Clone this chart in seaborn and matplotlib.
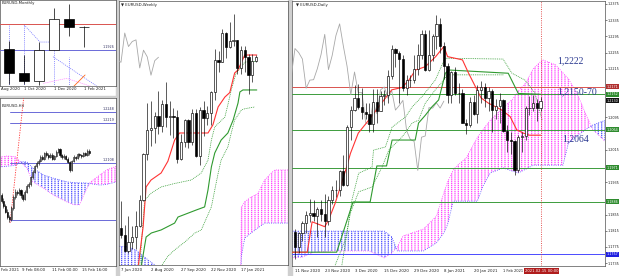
import numpy as np
import matplotlib
matplotlib.use("Agg")
import matplotlib.pyplot as plt
import matplotlib.transforms as mtransforms
import seaborn as sns

# ============================ DATA ============================
# ---- Daily EURUSD (bar 0 = 11 Nov 2020 ... bar 66 = 15 Feb 2021)
d_open = [1.1812, 1.1776, 1.1809, 1.1833, 1.1853, 1.1860, 1.1852, 1.1869, 1.1857, 1.1840,
          1.1892, 1.1915, 1.1916, 1.1962, 1.1927, 1.2072, 1.2112, 1.2144, 1.2121, 1.2109,
          1.2103, 1.2079, 1.2134, 1.2110, 1.2147, 1.2150, 1.2197, 1.2265, 1.2255, 1.2239,
          1.2167, 1.2187, 1.2188, 1.2215, 1.2250, 1.2300, 1.2213, 1.2248, 1.2297, 1.2326,
          1.2271, 1.2221, 1.2151, 1.2207, 1.2156, 1.2156, 1.2082, 1.2077, 1.2132, 1.2104,
          1.2163, 1.2170, 1.2142, 1.2161, 1.2113, 1.2124, 1.2137, 1.2062, 1.2040, 1.2036,
          1.1964, 1.2046, 1.2049, 1.2119, 1.2118, 1.2131, 1.2118]
d_high = [1.1820, 1.1812, 1.1840, 1.1863, 1.1894, 1.1891, 1.1874, 1.1890, 1.1905, 1.1900,
          1.1925, 1.1940, 1.1966, 1.2003, 1.2077, 1.2122, 1.2176, 1.2178, 1.2167, 1.2130,
          1.2130, 1.2164, 1.2164, 1.2160, 1.2162, 1.2212, 1.2273, 1.2267, 1.2260, 1.2250,
          1.2200, 1.2200, 1.2250, 1.2276, 1.2310, 1.2310, 1.2310, 1.2300, 1.2349, 1.2340,
          1.2280, 1.2230, 1.2210, 1.2220, 1.2180, 1.2165, 1.2090, 1.2145, 1.2150, 1.2175,
          1.2185, 1.2180, 1.2170, 1.2165, 1.2140, 1.2155, 1.2140, 1.2075, 1.2060, 1.2040,
          1.2051, 1.2058, 1.2124, 1.2148, 1.2150, 1.2140, 1.2146]
d_low = [1.1746, 1.1760, 1.1790, 1.1810, 1.1836, 1.1840, 1.1800, 1.1840, 1.1800, 1.1830,
         1.1880, 1.1898, 1.1900, 1.1925, 1.1925, 1.2040, 1.2110, 1.2115, 1.2090, 1.2090,
         1.2060, 1.2060, 1.2082, 1.2110, 1.2125, 1.2130, 1.2190, 1.2220, 1.2130, 1.2160,
         1.2150, 1.2170, 1.2180, 1.2200, 1.2240, 1.2210, 1.2210, 1.2235, 1.2265, 1.2255,
         1.2190, 1.2130, 1.2130, 1.2150, 1.2130, 1.2080, 1.2055, 1.2070, 1.2100, 1.2080,
         1.2130, 1.2120, 1.2110, 1.2060, 1.2090, 1.2080, 1.2060, 1.2010, 1.2005, 1.1952,
         1.1960, 1.2010, 1.2040, 1.2100, 1.2110, 1.2085, 1.2110]
d_close = [1.1776, 1.1809, 1.1833, 1.1853, 1.1860, 1.1852, 1.1869, 1.1857, 1.1840, 1.1892,
           1.1915, 1.1916, 1.1962, 1.1927, 1.2072, 1.2112, 1.2144, 1.2121, 1.2109, 1.2103,
           1.2079, 1.2134, 1.2110, 1.2147, 1.2150, 1.2197, 1.2265, 1.2255, 1.2239, 1.2167,
           1.2187, 1.2188, 1.2215, 1.2250, 1.2300, 1.2213, 1.2248, 1.2297, 1.2326, 1.2271,
           1.2221, 1.2151, 1.2207, 1.2156, 1.2156, 1.2082, 1.2077, 1.2132, 1.2104, 1.2163,
           1.2170, 1.2142, 1.2161, 1.2113, 1.2124, 1.2137, 1.2062, 1.2040, 1.2036, 1.1964,
           1.2046, 1.2049, 1.2119, 1.2118, 1.2131, 1.2118, 1.2135]
d_tick_bars = [0, 8, 16, 24, 32, 40, 48, 56]
d_tick_labels = ["11 Nov 2020", "23 Nov 2020", "3 Dec 2020", "15 Dec 2020",
                 "29 Dec 2020", "8 Jan 2021", "20 Jan 2021", "1 Feb 2021"]
d_price_ticks = [1.2375, 1.2335, 1.2295, 1.2255, 1.2215, 1.2095, 1.2015,
                 1.1935, 1.1855, 1.1815, 1.1775, 1.1735]
d_level_vals = [1.2171, 1.2152, 1.2064, 1.1971, 1.1886, 1.1757]
d_level_cols = ["#d9534f", "#3c9c3c", "#3c9c3c", "#3c9c3c", "#3c9c3c", "#4a4aff"]
d_box_vals = [1.2171, 1.2152, 1.2136, 1.2064, 1.1971, 1.1886, 1.1757]
d_box_text = ["1.2171", "1.2152", "1.2130", "1.2064", "1.1971", "1.1886", "1.1757"]
d_box_cols = ["#b03030", "#2e8b2e", "#111111", "#2e8b2e", "#2e8b2e", "#2e8b2e", "#2020e0"]
d_tenkan_x = [-1, 3.3, 4.6, 8.0, 9.0, 10.8, 13.9, 14.9, 17.0, 19.8, 22.5, 26.0, 28.8, 30.6,
              32.4, 35.0, 37.8, 40.0, 41.0, 45.0, 46.6, 50.0, 52.0, 55.6, 57.8, 59.6, 61.4, 63.0, 66.0]
d_tenkan_y = [1.1762, 1.1762, 1.1837, 1.1825, 1.1841, 1.1883, 1.1973, 1.2006, 1.2056, 1.2088,
              1.2121, 1.2163, 1.2169, 1.2187, 1.2212, 1.2220, 1.2245, 1.2270, 1.2245, 1.2237,
              1.2205, 1.2143, 1.2130, 1.2113, 1.2097, 1.2064, 1.2056, 1.2051, 1.2051]
d_kijun_x = [-1, 11.2, 15.6, 20.2, 22.0, 24.6, 26.1, 32.3, 33.2, 35.0, 36.8, 38.6, 40.4,
             41.3, 57.3, 60.0, 66.0]
d_kijun_y = [1.1762, 1.1762, 1.1886, 1.1886, 1.1975, 1.1975, 1.2039, 1.2039, 1.2081, 1.2100,
             1.2121, 1.2138, 1.2204, 1.2212, 1.2204, 1.2154, 1.2152]
d_dot1_x = [12.6, 14.0, 15.3, 17.1, 20.7, 21.1, 24.3, 26.1, 29.7, 31.5, 34.1, 37.7, 40.3,
            55.9, 58.3, 61.8, 64.5, 66.4]
d_dot1_y = [1.1730, 1.1810, 1.1891, 1.1957, 1.1972, 1.2014, 1.2022, 1.2071, 1.2096, 1.2121,
            1.2146, 1.2187, 1.2241, 1.2239, 1.2204, 1.2187, 1.2155, 1.2088]
d_dot2_x = [10.8, 13.5, 14.9, 17.1, 20.7, 23.4, 25.2, 28.8, 31.5, 33.2, 35.0, 37.7, 39.5, 41.0, 56.0]
d_dot2_y = [1.1730, 1.1792, 1.1859, 1.1911, 1.1923, 1.1972, 1.2014, 1.2047, 1.2081, 1.2088,
            1.2130, 1.2163, 1.2182, 1.2200, 1.2200]
d_cloud_x = [-1, 2, 5, 10, 15, 20, 24, 26, 27.5, 29, 34.5, 38, 40, 41, 42.5, 43.5, 46, 49,
             50.5, 52.5, 56, 58.5, 60, 62, 64, 66.5, 70, 72, 73.5, 76, 78, 80, 84]
d_span_a = [1.1748, 1.1750, 1.1762, 1.1765, 1.1765, 1.1765, 1.1748, 1.1760, 1.1775, 1.1802,
            1.1819, 1.1851, 1.1909, 1.1935, 1.1965, 1.1975, 1.1995, 1.2045, 1.2065, 1.2088,
            1.2120, 1.2140, 1.2160, 1.2180, 1.2215, 1.2237, 1.2225, 1.2205, 1.2190, 1.2150,
            1.2106, 1.2065, 1.2030]
d_span_b = [1.1814, 1.1814, 1.1814, 1.1814, 1.1814, 1.1814, 1.1814, 1.1800, 1.1765, 1.1765,
            1.1765, 1.1785, 1.1810, 1.1830, 1.1888, 1.1888, 1.1888, 1.1888, 1.1925, 1.1958,
            1.1970, 1.1962, 1.1958, 1.1967, 1.1977, 1.1977, 1.1977, 1.1977, 1.2032, 1.2050,
            1.2064, 1.2076, 1.2090]

# ---- Weekly EURUSD (bar 0 = 7 Jun 2020 ... bar 36 = 14 Feb 2021)
w_open = [1.1290, 1.1255, 1.1178, 1.1219, 1.1245, 1.1301, 1.1428, 1.1655, 1.1777, 1.1786,
          1.1842, 1.1794, 1.1902, 1.1838, 1.1845, 1.1838, 1.1632, 1.1715, 1.1825, 1.1716,
          1.1860, 1.1646, 1.1876, 1.1833, 1.1857, 1.1962, 1.2121, 1.2110, 1.2255, 1.2188,
          1.2213, 1.2221, 1.2082, 1.2170, 1.2137, 1.2046, 1.2118]
w_high = [1.1422, 1.1305, 1.1349, 1.1302, 1.1372, 1.1452, 1.1660, 1.1909, 1.1916, 1.1866,
          1.1966, 1.1925, 1.2011, 1.1917, 1.1882, 1.1873, 1.1754, 1.1831, 1.1829, 1.1881,
          1.1880, 1.1891, 1.1920, 1.1894, 1.1966, 1.2178, 1.2167, 1.2273, 1.2260, 1.2310,
          1.2349, 1.2222, 1.2189, 1.2190, 1.2150, 1.2150, 1.2146]
w_low = [1.1238, 1.1169, 1.1168, 1.1185, 1.1186, 1.1297, 1.1423, 1.1626, 1.1696, 1.1711,
         1.1753, 1.1763, 1.1789, 1.1752, 1.1737, 1.1612, 1.1625, 1.1692, 1.1688, 1.1700,
         1.1640, 1.1603, 1.1746, 1.1800, 1.1800, 1.1925, 1.2060, 1.2110, 1.2130, 1.2180,
         1.2190, 1.2054, 1.2053, 1.2060, 1.1952, 1.2010, 1.2110]
w_close = [1.1255, 1.1178, 1.1219, 1.1245, 1.1301, 1.1428, 1.1655, 1.1777, 1.1786, 1.1842,
           1.1794, 1.1902, 1.1838, 1.1845, 1.1838, 1.1632, 1.1715, 1.1825, 1.1716, 1.1860,
           1.1646, 1.1876, 1.1833, 1.1857, 1.1962, 1.2121, 1.2110, 1.2255, 1.2188, 1.2213,
           1.2221, 1.2082, 1.2170, 1.2137, 1.2046, 1.2118, 1.2135]
w_tick_bars = [0, 8, 16, 24, 32]
w_tick_labels = ["7 Jun 2020", "2 Aug 2020", "27 Sep 2020", "22 Nov 2020", "17 Jan 2021"]
w_tenkan_x = [4.6, 5.9, 6.7, 8.0, 10.7, 12.5, 14.3, 15.6, 20.5, 23.2, 24.5, 25.9, 27.7,
              29.0, 30.3, 31.2, 33.0, 36.2]
w_tenkan_y = [1.1100, 1.1295, 1.1493, 1.1527, 1.1562, 1.1620, 1.1725, 1.1760, 1.1760, 1.1760,
              1.1800, 1.1889, 1.1938, 1.1960, 1.2057, 1.2072, 1.2146, 1.2146]
w_kijun_x = [5.4, 6.7, 8.1, 10.7, 14.3, 15.2, 20.1, 22.3, 23.2, 24.1, 25.0, 26.7, 28.5,
             29.9, 31.2, 31.7, 32.5, 36.2]
w_kijun_y = [1.1100, 1.1245, 1.1265, 1.1280, 1.1314, 1.1344, 1.1379, 1.1394, 1.1478, 1.1592,
             1.1661, 1.1725, 1.1760, 1.1824, 1.1908, 1.1963, 1.1973, 1.1973]
w_dot1_x = [5.0, 6.3, 8.1, 10.7, 14.3, 18.7, 21.4, 23.2, 24.1, 25.0, 27.7, 28.5, 29.4,
            30.7, 32.1, 33.0, 36.2]
w_dot1_y = [1.1100, 1.1428, 1.1463, 1.1493, 1.1510, 1.1527, 1.1562, 1.1626, 1.1725, 1.1790,
            1.1839, 1.1900, 1.1973, 1.2057, 1.2087, 1.2111, 1.2115]
w_dot2_x = [10.7, 12.5, 14.3, 17.0, 19.7, 21.4, 24.1, 25.0, 25.9, 26.7, 28.5, 29.4, 30.3,
            32.1, 33.0, 35.7]
w_dot2_y = [1.1100, 1.1150, 1.1181, 1.1220, 1.1265, 1.1280, 1.1394, 1.1478, 1.1560, 1.1626,
            1.1691, 1.1760, 1.1824, 1.1874, 1.1880, 1.1889]
w_cloud_x = [-1, 2, 4, 6, 8, 10, 12, 31.9, 32.1, 33.0, 34.7, 36.5, 38.3, 40.1, 41.0, 45.0]
w_span_a = [1.1060, 1.1070, 1.1075, 1.1070, 1.1060, 1.1050, 1.1040, 1.1050, 1.1394, 1.1420,
            1.1443, 1.1460, 1.1527, 1.1562, 1.1577, 1.1577]
w_span_b = [1.1200, 1.1196, 1.1180, 1.1150, 1.1120, 1.1095, 1.1080, 1.1040, 1.1150, 1.1240,
            1.1265, 1.1290, 1.1314, 1.1314, 1.1314, 1.1314]

# ---- Monthly EURUSD (bar 0 = Aug 2020, bars 1..6 = Sep 2020 .. Feb 2021)
m_bar = [1, 2, 3, 4, 5, 6]
m_open = [1.1935, 1.1720, 1.1647, 1.1927, 1.2213, 1.2137]
m_high = [1.2011, 1.1881, 1.2003, 1.2310, 1.2349, 1.2150]
m_low = [1.1612, 1.1612, 1.1603, 1.1925, 1.2053, 1.1952]
m_close = [1.1720, 1.1647, 1.1927, 1.2213, 1.2137, 1.2135]
m_tick_bars = [0.47, 2, 4, 6]
m_tick_labels = ["Aug 2020", "1 Oct 2020", "1 Dec 2020", "1 Feb 2021"]
m_red_level = 1.2167
m_blue_level = 1.1928
m_blue_label = "1.1926"
m_vline_bars = [1, 2, 4, 5]
m_vline_tops = [1.2160, 1.2160, 1.1928, 1.1866]
m_fan1_x = [2.0, 3.07, 3.93]
m_fan1_y = [1.2160, 1.2001, 1.2001]
m_fan2_x = [3.93, 7.07]
m_fan2_y = [1.1866, 1.1575]
m_pink_x = [3.29, 4.84, 7.07]
m_pink_y = [1.1621, 1.1667, 1.1566]
m_orange_x = [5.07, 6.07]
m_orange_y = [1.1560, 1.1698]

# ---- H4 EURUSD (bar 0 ~ 4 Feb 2021 ... bar 45 ~ 15 Feb 2021)
h_open = [1.2020, 1.2005, 1.1990, 1.1975, 1.1960, 1.1955, 1.1985, 1.2015, 1.2030, 1.2025,
          1.2035, 1.2020, 1.2010, 1.2030, 1.2045, 1.2050, 1.2070, 1.2085, 1.2100, 1.2108,
          1.2115, 1.2125, 1.2120, 1.2135, 1.2130, 1.2125, 1.2132, 1.2120, 1.2128, 1.2140,
          1.2148, 1.2130, 1.2125, 1.2128, 1.2120, 1.2112, 1.2090, 1.2115, 1.2125, 1.2122,
          1.2133, 1.2130, 1.2127, 1.2135, 1.2130, 1.2142]
h_high = [1.2026, 1.2012, 1.1996, 1.1982, 1.1966, 1.1990, 1.2020, 1.2036, 1.2034, 1.2040,
          1.2038, 1.2024, 1.2034, 1.2050, 1.2056, 1.2074, 1.2090, 1.2104, 1.2113, 1.2120,
          1.2130, 1.2131, 1.2140, 1.2141, 1.2136, 1.2137, 1.2136, 1.2131, 1.2144, 1.2150,
          1.2150, 1.2134, 1.2133, 1.2132, 1.2124, 1.2115, 1.2118, 1.2130, 1.2129, 1.2137,
          1.2137, 1.2134, 1.2139, 1.2138, 1.2146, 1.2146]
h_low = [1.2000, 1.1985, 1.1970, 1.1955, 1.1947, 1.1950, 1.1980, 1.2010, 1.2020, 1.2020,
         1.2013, 1.2004, 1.2006, 1.2026, 1.2040, 1.2046, 1.2066, 1.2080, 1.2096, 1.2104,
         1.2111, 1.2116, 1.2117, 1.2126, 1.2121, 1.2122, 1.2116, 1.2117, 1.2124, 1.2136,
         1.2126, 1.2120, 1.2121, 1.2116, 1.2108, 1.2083, 1.2086, 1.2112, 1.2118, 1.2119,
         1.2126, 1.2123, 1.2124, 1.2127, 1.2127, 1.2131]
h_close = [1.2005, 1.1990, 1.1975, 1.1960, 1.1955, 1.1985, 1.2015, 1.2030, 1.2025, 1.2035,
           1.2020, 1.2010, 1.2030, 1.2045, 1.2050, 1.2070, 1.2085, 1.2100, 1.2108, 1.2115,
           1.2125, 1.2120, 1.2135, 1.2130, 1.2125, 1.2132, 1.2120, 1.2128, 1.2140, 1.2148,
           1.2130, 1.2125, 1.2128, 1.2120, 1.2112, 1.2090, 1.2115, 1.2125, 1.2122, 1.2133,
           1.2130, 1.2127, 1.2135, 1.2130, 1.2142, 1.2135]
h_tick_bars = [-0.4, 10.5, 26, 41.3]
h_tick_labels = ["Feb 2021", "9 Feb 08:00", "11 Feb 00:00", "15 Feb 16:00"]
h_levels = [1.2248, 1.2219, 1.2108, 1.1952]
h_level_labels = ["1.2248", "1.2219", "1.2108", ""]
h_trend_x = [4.4, 11.6]
h_trend_y = [1.1944, 1.2300]
h_cloud_x = [-1, 3, 7, 10, 13, 16, 21.5, 26.5, 33.5, 37, 40, 43, 45.5, 48, 50.5, 54, 59]
h_span_a = [1.2125, 1.2128, 1.2126, 1.2110, 1.2095, 1.2057, 1.2040, 1.2021, 1.2002, 1.1994,
            1.1994, 1.2030, 1.2056, 1.2066, 1.2076, 1.2090, 1.2100]
h_span_b = [1.2098, 1.2100, 1.2102, 1.2112, 1.2112, 1.2095, 1.2076, 1.2067, 1.2057, 1.2055,
            1.2054, 1.2054, 1.2052, 1.2050, 1.2048, 1.2050, 1.2057]

# ============================ STYLE ============================
sns.set_style("white")
plt.rcParams['font.family'] = ['DejaVu Sans']
MAG = "#ff44ff"
BLU = "#4f4fff"
GRN = "#2f9a2f"
RED = "#ff3333"
TXT = 2.8
YTXT = 2.45

W, H = 620, 276
fig = plt.figure(figsize=(6.2, 2.76), dpi=100)
fig.patch.set_facecolor("white")


def px_axes(x0, y0, x1, y1):
    return fig.add_axes([x0 / W, 1 - y1 / H, (x1 - x0) / W, (y1 - y0) / H])


def style(ax):
    ax.set_facecolor("white")
    for s in ax.spines.values():
        s.set_color("#505050")
        s.set_linewidth(0.5)
    ax.tick_params(axis="both", which="both", length=1.5, width=0.4,
                   labelsize=TXT, pad=1, colors="#202020")
    ax.set_yticks([])


def candles(ax, x, o, h, l, c, width, lw=0.45):
    x = np.asarray(x, float); o = np.asarray(o); h = np.asarray(h)
    l = np.asarray(l); c = np.asarray(c)
    ax.vlines(x, l, h, color="black", lw=lw, zorder=6)
    up = c >= o
    ax.bar(x[up], (c - o)[up], bottom=o[up], width=width, color="white",
           edgecolor="black", linewidth=lw, zorder=7)
    ax.bar(x[~up], (o - c)[~up], bottom=c[~up], width=width, color="black",
           edgecolor="black", linewidth=lw, zorder=7)


def line(ax, x, y, color, lw=0.7, ls="-", z=4):
    sns.lineplot(x=np.asarray(x, float), y=np.asarray(y, float), ax=ax, color=color,
                 lw=lw, linestyle=ls, estimator=None, sort=False, zorder=z)


def cloud(ax, x, a, b):
    x = np.asarray(x, float); a = np.asarray(a, float); b = np.asarray(b, float)
    with plt.rc_context({"hatch.linewidth": 0.9}):
        ax.fill_between(x, a, b, where=a >= b, interpolate=True, facecolor="none",
                        edgecolor=MAG, hatch="|||||", linewidth=0, zorder=1)
        ax.fill_between(x, a, b, where=a < b, interpolate=True, facecolor="none",
                        edgecolor=BLU, hatch="|||||", linewidth=0, zorder=1)
    with plt.rc_context({"hatch.linewidth": 0.55}):
        ax.fill_between(x, a, b, facecolor="none", edgecolor="white",
                        hatch="--------", linewidth=0, zorder=1.5)
    line(ax, x, a, MAG, lw=0.6, ls=":", z=2)
    line(ax, x, b, BLU, lw=0.6, ls=":", z=2)


def xlabels(ax, bars, labels):
    trans = mtransforms.blended_transform_factory(ax.transData, ax.transAxes)
    for b, t in zip(bars, labels):
        ax.text(b, -0.012, t, transform=trans, ha="left", va="top", fontsize=TXT,
                color="#202020", clip_on=False)
    lo, hi = ax.get_xlim()
    ax.set_xticks([b for b in bars if lo <= b <= hi])
    ax.set_xticklabels([])


# window separators
for x0, x1 in [(116, 119), (288, 292)]:
    fig.patches.append(plt.Rectangle((x0 / W, 0), (x1 - x0) / W, 1,
                                     transform=fig.transFigure, color="#cfcfcf", zorder=-5))
fig.patches.append(plt.Rectangle((0, 1 - 98 / H), 116 / W, 2 / H,
                                 transform=fig.transFigure, color="#cfcfcf", zorder=-5))

# ============================ MONTHLY ============================
axm = px_axes(0, 0, 116, 86)
style(axm)
axm.set_xlim(0.4, 8.13)
axm.set_ylim(1.15966, 1.23878)
axm.axhline(m_red_level, color="#d9534f", lw=0.7, zorder=3)
axm.axhline(m_blue_level, color="#6a6ad8", lw=0.7, zorder=3)
axm.vlines(m_vline_bars, 1.150, m_vline_tops, color="#6a6aff", lw=0.5,
           linestyles=(0, (1.5, 1.5)), zorder=2)
line(axm, m_fan1_x, m_fan1_y, "#6a6aff", lw=0.5, ls=(0, (1.5, 1.5)), z=2)
line(axm, m_fan2_x, m_fan2_y, "#6a6aff", lw=0.5, ls=(0, (1.5, 1.5)), z=2)
line(axm, m_pink_x, m_pink_y, "#ff77ff", lw=0.5, ls=(0, (1.5, 1.5)), z=2)
line(axm, m_orange_x, m_orange_y, "#ff6a1a", lw=0.6, z=2)
candles(axm, m_bar, m_open, m_high, m_low, m_close, width=0.66, lw=0.5)
axm.text(0.985, m_blue_level + 0.0006, m_blue_label, fontsize=2.4, ha="right", va="bottom",
         color="#303060", transform=mtransforms.blended_transform_factory(axm.transAxes, axm.transData))
axm.text(0.015, 0.99, "EURUSD,Monthly", transform=axm.transAxes, fontsize=TXT,
         va="top", ha="left", color="#202020")
xlabels(axm, m_tick_bars, m_tick_labels)

# ============================ H4 ============================
axh = px_axes(0, 98, 116, 266)
style(axh)
axh.set_xlim(-0.77, 58.72)
axh.set_ylim(1.18255, 1.22875)
cloud(axh, h_cloud_x, h_span_a, h_span_b)
transh = mtransforms.blended_transform_factory(axh.transAxes, axh.transData)
for v, t in zip(h_levels, h_level_labels):
    axh.plot([0.085, 1.0], [v, v], transform=transh, color="#6a6ad8", lw=0.7, zorder=3)
    if t:
        axh.text(0.985, v + 0.0003, t, transform=transh, fontsize=2.4, ha="right",
                 va="bottom", color="#303060")
line(axh, h_trend_x, h_trend_y, "#ff3333", lw=0.6, ls=(0, (1.5, 1.5)), z=3)
candles(axh, np.arange(len(h_close)), h_open, h_high, h_low, h_close, width=0.55, lw=0.4)
axh.text(0.015, 0.965, "EURUSD,H4", transform=axh.transAxes, fontsize=TXT,
         va="top", ha="left", color="#202020")
xlabels(axh, h_tick_bars, h_tick_labels)

# ============================ WEEKLY ============================
axw = px_axes(119, 1, 288, 265)
style(axw)
axw.set_xlim(-0.53, 44.53)
axw.set_ylim(1.11065, 1.24134)
cloud(axw, w_cloud_x, w_span_a, w_span_b)
w_idx = np.arange(len(w_close))
line(axw, w_idx[25:] - 26, np.asarray(w_close)[25:], "#a8a8a8", lw=0.6, z=3)
line(axw, w_dot1_x, w_dot1_y, GRN, lw=0.55, ls=(0, (1.2, 1.2)), z=3)
line(axw, w_dot2_x, w_dot2_y, GRN, lw=0.55, ls=(0, (1.2, 1.2)), z=3)
line(axw, w_kijun_x, w_kijun_y, GRN, lw=0.8, z=4)
line(axw, w_tenkan_x, w_tenkan_y, RED, lw=0.8, z=4)
candles(axw, w_idx, w_open, w_high, w_low, w_close, width=0.6, lw=0.45)
axw.text(0.012, 0.993, "\u25bc EURUSD,Weekly", transform=axw.transAxes, fontsize=TXT,
         va="top", ha="left", color="#202020")
xlabels(axw, w_tick_bars, w_tick_labels)

# ============================ DAILY ============================
axd = px_axes(292, 1, 605, 266)
style(axd)
axd.set_xlim(-0.8, 83.3)
axd.set_ylim(1.17279, 1.23824)
cloud(axd, d_cloud_x, d_span_a, d_span_b)
for v, c in zip(d_level_vals, d_level_cols):
    axd.axhline(v, color=c, lw=0.7, zorder=3)
d_idx = np.arange(len(d_close))
line(axd, d_idx[25:] - 26, np.asarray(d_close)[25:], "#a8a8a8", lw=0.6, z=3)
line(axd, d_dot1_x, d_dot1_y, GRN, lw=0.55, ls=(0, (1.2, 1.2)), z=3)
line(axd, d_dot2_x, d_dot2_y, GRN, lw=0.55, ls=(0, (1.2, 1.2)), z=3)
line(axd, d_kijun_x, d_kijun_y, GRN, lw=0.8, z=4)
line(axd, d_tenkan_x, d_tenkan_y, RED, lw=0.8, z=4)
candles(axd, d_idx, d_open, d_high, d_low, d_close, width=0.6, lw=0.45)
axd.axvline(66, color="#e04040", lw=0.6, ls=(0, (1.2, 1.5)), zorder=5)
axd.yaxis.tick_right()
axd.set_yticks(d_price_ticks)
axd.set_yticklabels([f"{v:.4f}" for v in d_price_ticks])
axd.tick_params(axis="y", labelsize=YTXT, pad=0.8, length=1.2)
transd = mtransforms.blended_transform_factory(axd.transAxes, axd.transData)
for v, t, c in zip(d_box_vals, d_box_text, d_box_cols):
    axd.text(1.004, v, t, transform=transd, fontsize=YTXT, color="white", ha="left",
             va="center", clip_on=False, zorder=20,
             bbox=dict(boxstyle="square,pad=0.15", fc=c, ec="none"))
xlabels(axd, d_tick_bars[:-1], d_tick_labels[:-1])
transdx = mtransforms.blended_transform_factory(axd.transData, axd.transAxes)
axd.text(d_tick_bars[-1], -0.012, d_tick_labels[-1], transform=transdx, ha="left", va="top",
         fontsize=2.6, color="#202020", clip_on=False)
axd.text(66.2, -0.010, "2021.02.15 00:00", transform=transdx, fontsize=2.7, color="white",
         ha="center", va="top", clip_on=False, zorder=20,
         bbox=dict(boxstyle="square,pad=0.25", fc="#b01c1c", ec="none"))
axd.text(0.012, 0.993, "\u25bc EURUSD,Daily", transform=axd.transAxes, fontsize=TXT,
         va="top", ha="left", color="#202020")
ann_font = dict(fontsize=7, color="#2b3990", family=["Liberation Serif", "DejaVu Serif"],
                zorder=15)
axd.text(70.4, 1.2234, "1,2222", ha="left", va="center", **ann_font)
axd.text(70.4, 1.2158, "1,2150-70", ha="left", va="center", **ann_font)
axd.text(71.8, 1.2042, "1,2064", ha="left", va="center", **ann_font)

fig.savefig("out.png", dpi=100, facecolor=fig.get_facecolor())
